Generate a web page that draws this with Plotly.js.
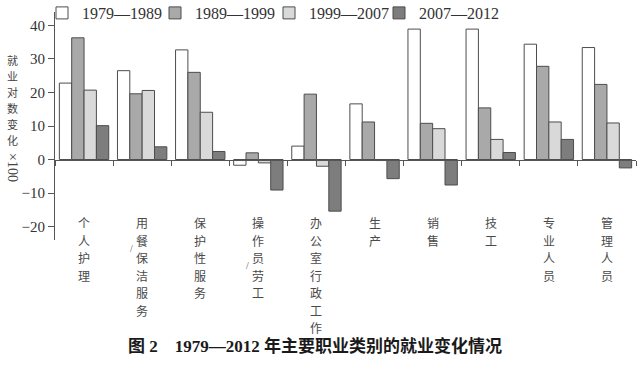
<!DOCTYPE html>
<html>
<head>
<meta charset="utf-8">
<script src="https://cdn.plot.ly/plotly-3.0.1.min.js"></script>
<style>html,body{margin:0;padding:0;background:#fff;}#chart{width:640px;height:366px;}</style>
</head>
<body>
<div id="chart"></div>
<script>
const categories = ['个人护理','用餐/保洁服务','保护性服务','操作员/劳工','办公室行政工作','生产','销售','技工','专业人员','管理人员'];
const seriesNames = ['1979—1989','1989—1999','1999—2007','2007—2012'];
const s1979_1989 = [22.8, 26.5, 32.7, -1.7, 4.0, 16.6, 38.9, 38.9, 34.4, 33.4];
const s1989_1999 = [36.3, 19.6, 26.0, 2.0, 19.5, 11.2, 10.8, 15.4, 27.8, 22.4];
const s1999_2007 = [20.7, 20.6, 14.1, -1.0, -2.0, -0.3, 9.2, 6.0, 11.2, 10.9];
const s2007_2012 = [10.1, 3.8, 2.4, -9.1, -15.4, -5.7, -7.6, 2.1, 6.0, -2.5];
const yTickVals = [-20, -10, 0, 10, 20, 30, 40];
const yTitleChars = '就业对数变化';
const yTitleSuffix = '×100';
const figTitle = '图 2\u30001979—2012 年主要职业类别的就业变化情况';

const seriesValues = [s1979_1989, s1989_1999, s1999_2007, s2007_2012];
const fills = ['#ffffff', '#a9a9a9', '#d9d9d9', '#7d7d7d'];
const legendX = [42, 155, 269, 379];
const legendIds = ['legend', 'legend2', 'legend3', 'legend4'];
const FONT = 'Liberation Serif, Noto Sans CJK SC, serif';
const CJK = 'Noto Sans CJK SC, sans-serif';

const traces = seriesValues.map((vals, i) => ({
  type: 'bar',
  name: seriesNames[i],
  legend: legendIds[i],
  x: categories,
  y: vals,
  marker: {color: fills[i], line: {color: '#4d4d4d', width: 1}}
}));

const yMin = -24, yMax = 44;
const annotations = [];
const LABEL_SIZE = 12;
const PITCH = 17.5;

// vertical category labels, one character per annotation; a slash is drawn beside the column
categories.forEach(c => {
  let k = 0;
  for (const ch of [...c]) {
    if (ch === '/') {
      annotations.push({x: c, y: -15.7, xref: 'x', yref: 'y', yanchor: 'middle', xanchor: 'right', showarrow: false,
        text: '/', xshift: -7, yshift: -(k * PITCH) - 1, font: {family: FONT, size: 10, color: '#555'}});
      continue;
    }
    annotations.push({x: c, y: -15.7, xref: 'x', yref: 'y', yanchor: 'top', showarrow: false,
      text: ch, yshift: -(k * PITCH), font: {family: CJK, size: LABEL_SIZE, color: '#4a4a4a'}});
    k++;
  }
});

// y-axis title
[...yTitleChars].forEach((ch, k) => {
  annotations.push({x: -0.0723, y: 1, xref: 'paper', yref: 'paper', xanchor: 'center', yanchor: 'top',
    showarrow: false, text: ch, yshift: -(38 + k * 16), font: {family: CJK, size: 11, color: '#444'}});
});
annotations.push({x: -0.0723, y: 1, xref: 'paper', yref: 'paper', xanchor: 'center', yanchor: 'middle',
  showarrow: false, text: yTitleSuffix, textangle: 90, yshift: -156, font: {family: FONT, size: 14, color: '#444'}});

// figure caption
annotations.push({x: 0.4475, y: 0, xref: 'paper', yref: 'paper', xanchor: 'center', yanchor: 'middle',
  showarrow: false, text: '<b>' + figTitle + '</b>', yshift: -106, font: {family: FONT, size: 17, color: '#1a1a1a'}});

const layout = {
  width: 640, height: 366,
  margin: {l: 55, r: 4, t: 12, b: 126, pad: 0, autoexpand: false},
  paper_bgcolor: '#fff', plot_bgcolor: '#fff',
  barmode: 'group', bargap: 0.15, bargroupgap: 0,
  showlegend: true,
  xaxis: {type: 'category', categoryorder: 'array', categoryarray: categories, range: [-0.5, categories.length - 0.5],
    anchor: 'free', position: (0 - yMin) / (yMax - yMin), tickson: 'boundaries', ticks: 'outside', ticklen: 5,
    tickcolor: '#555', showline: true, linecolor: '#555', linewidth: 1, showticklabels: false, showgrid: false, zeroline: false},
  yaxis: {range: [yMin, yMax], tickvals: yTickVals, ticks: 'outside', ticklen: 6, tickcolor: '#555',
    showline: true, linecolor: '#555', linewidth: 1, showgrid: false, zeroline: false, automargin: false,
    tickfont: {family: FONT, size: 15, color: '#333'}},
  annotations: annotations
};
legendIds.forEach((id, i) => {
  layout[id] = {orientation: 'h', xref: 'container', yref: 'container', x: legendX[i] / 640, y: 1 - 13 / 366,
    xanchor: 'left', yanchor: 'middle', bgcolor: 'rgba(0,0,0,0)',
    font: {family: FONT, size: 16, color: '#333'}};
});

Plotly.newPlot('chart', traces, layout, {displayModeBar: false, staticPlot: true});
</script>
</body>
</html>
